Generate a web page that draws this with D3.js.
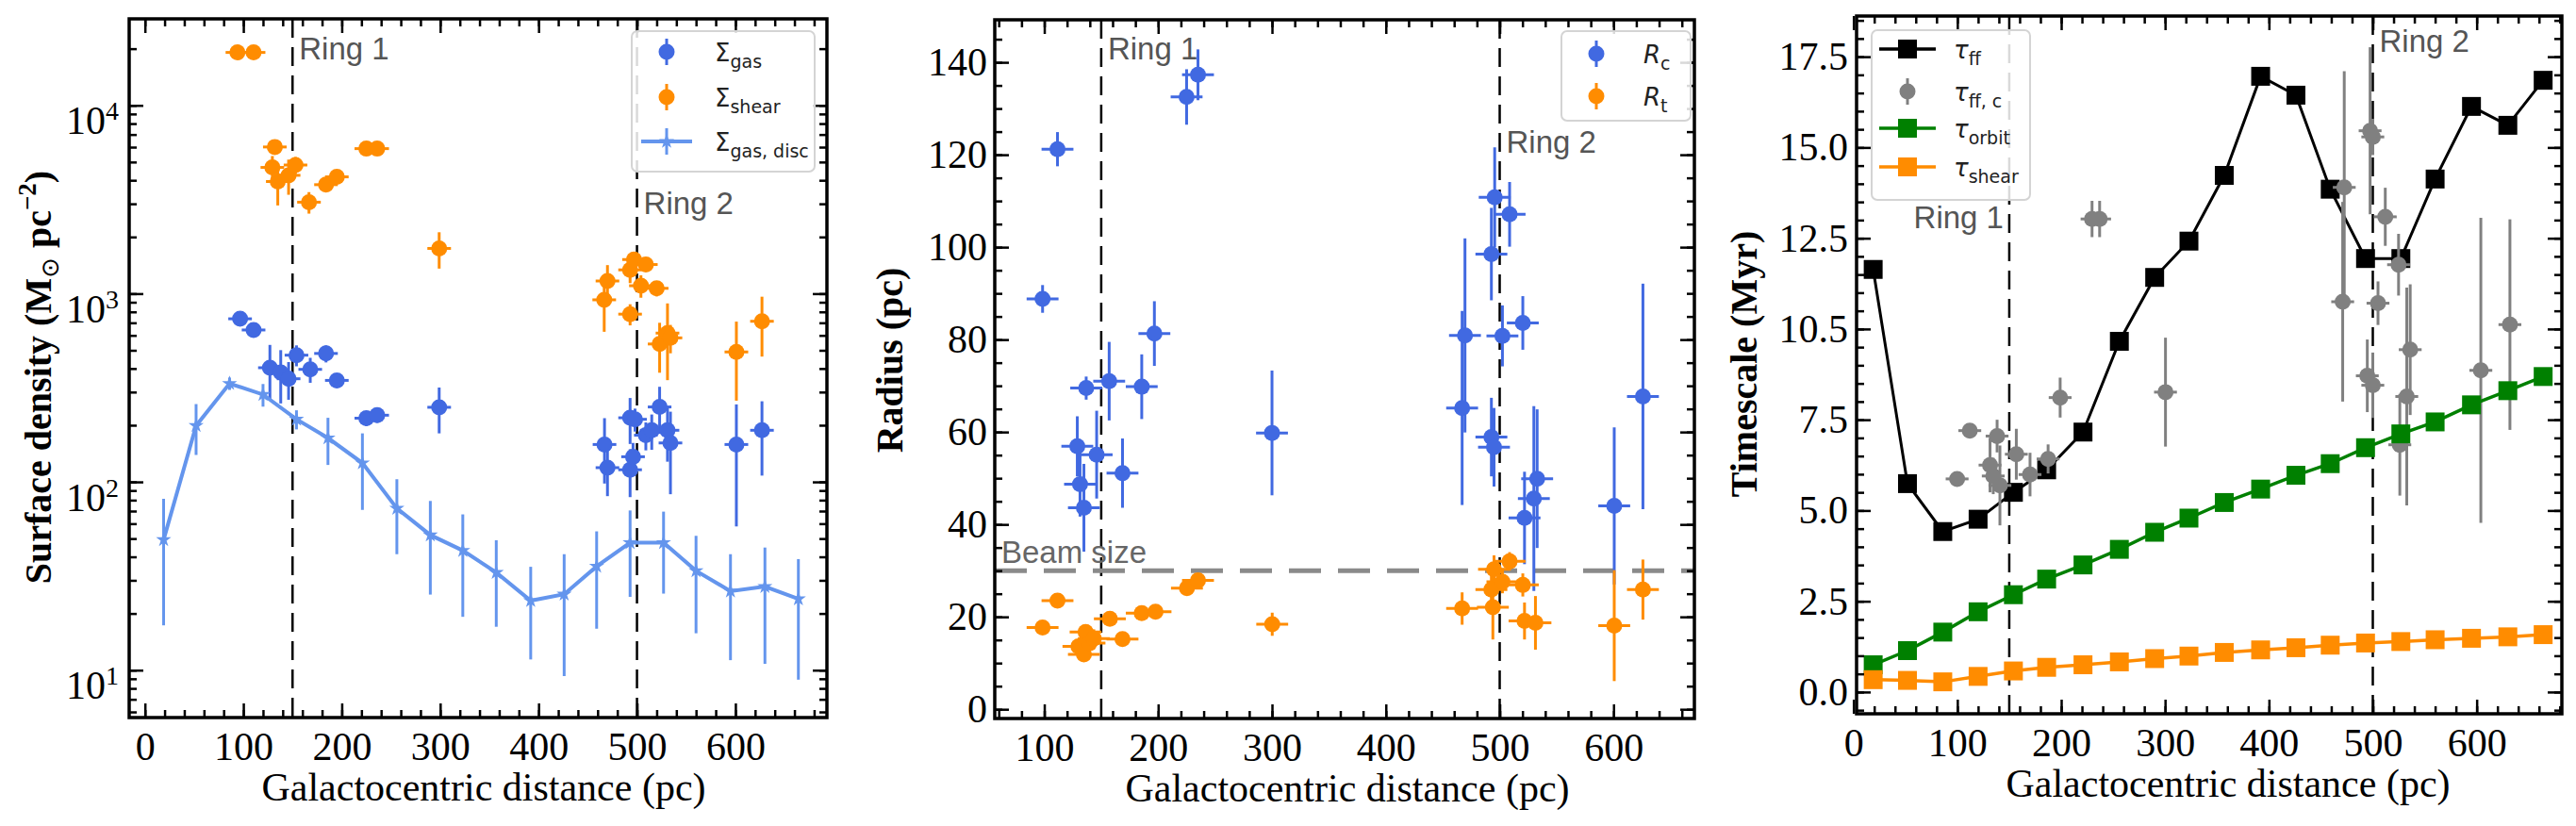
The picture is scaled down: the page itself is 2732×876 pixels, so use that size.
<!DOCTYPE html>
<html>
<head>
<meta charset="utf-8">
<script src="https://cdn.jsdelivr.net/npm/d3@7"></script>
<style>
  body { margin: 0; background: #fff; }
</style>
</head>
<body>
<svg id="fig" width="2732" height="876"></svg>
<script>
// ring positions (pc)
const ringRadii = [150, 500];

// ---- left panel: surface densities (Msun pc^-2) ----
const gasR = [96.7, 110.4, 127, 138, 146, 154, 168, 184, 195, 225, 236, 299,
              467, 470, 493, 493, 496, 498, 509, 515, 523, 531, 534, 601, 627];
const gasSigma = [735, 641, 404, 381, 353, 471, 396, 481, 346, 218, 226, 249,
                  158, 119, 219, 116, 136, 215, 177, 188, 250, 188, 161, 158, 188];
const gasErr = [40, 40, 130, 120, 80, 60, 60, 50, 30, 20, 20, 68,
                60, 35, 60, 33, 25, 30, 30, 40, 70, 60, 75, 100, 80];

const shearR = [94, 110.4, 129.5, 132, 135, 146, 153, 166.7, 184, 195, 225, 236, 299,
                466.7, 470, 493, 493, 497, 504, 509, 520, 523, 531, 534, 601, 627];
const shearSigma = [19100, 19100, 4680, 6010, 3940, 4250, 4820, 3060, 3790, 4170, 5890, 5890, 1738,
                    927, 1167, 1337, 778, 1517, 1101, 1427, 1067, 540, 617, 582, 490, 713];
const shearErr = [900, 900, 700, 500, 1000, 900, 500, 400, 300, 300, 300, 300, 380,
                  300, 250, 200, 100, 150, 150, 100, 100, 160, 270, 100, 220, 250];

// radial bins used for the disc averages and the timescales
const binR = [19, 52, 86, 120, 154, 186, 221, 256, 290, 323, 357, 392, 426, 459, 493, 527, 560, 595, 630, 664];
const discSigma = [49.3, 199, 333, 291, 215, 171, 126, 72.3, 52.2, 43.2, 33, 23.4, 25.3, 35.6, 47.5, 47.5, 33.7, 26.3, 27.8, 23.9];
const discErr = [32, 60, 25, 40, 25, 48, 55, 31, 27, 24, 16, 12, 16, 19, 23, 22, 18, 15, 17, 15];

// ---- middle panel: cloud radii (pc) ----
const rcR = [98.5, 111.6, 129, 131.4, 134.8, 136.8, 146, 157, 168.7, 185.6, 196.7, 225, 235, 300,
             467, 469.5, 492.7, 492.7, 495, 495.6, 502.4, 508.7, 520.3, 521.8, 530, 532.9, 600.6, 625.8];
const rc = [88.8, 121.2, 56.9, 48.7, 43.6, 69.5, 55.1, 71, 51.1, 69.8, 81.3, 132.5, 137.3, 59.8,
            65.2, 80.9, 98.5, 58.9, 56.7, 110.8, 80.8, 107.1, 83.6, 41.4, 45.6, 49.9, 44, 67.7];
const rcErr = [3, 3.7, 6.5, 7, 9.5, 2.5, 9.5, 8.5, 7.5, 7, 7, 6, 5.5, 13.5,
               21, 21, 10, 8.5, 8.5, 10.8, 6.6, 7, 5.8, 10, 20, 15, 17, 24.4];

const rtR = [98.5, 111.6, 130, 134.8, 136.3, 139.7, 143.5, 157.6, 168.7, 185.6, 197.7, 225.3, 235, 300.2,
             467, 492.7, 494, 495, 502.4, 508.7, 520.3, 521.8, 531.4, 600.6, 625.8];
const rt = [17.7, 23.5, 13.6, 11.9, 16.7, 14.3, 15.3, 19.6, 15.2, 20.8, 21.1, 26.2, 27.9, 18.4,
            21.8, 25.9, 22.1, 30.3, 27.6, 32, 26.9, 19.1, 18.7, 18.1, 25.9];
const rtErr = [1.5, 1.5, 1.5, 1.5, 1.5, 1.5, 2, 1.5, 1.5, 1.2, 1.2, 1.2, 1.2, 2.5,
               3.5, 4, 7, 3, 2.5, 2, 2.5, 4, 5.8, 12, 6.5];
const beamSize = 30;

// ---- right panel: timescales (Myr) ----
const tauFF = [11.64, 5.74, 4.42, 4.76, 5.5, 6.12, 7.16, 9.66, 11.42, 12.42, 14.23, 16.96,
               16.44, 13.85, 11.94, 11.94, 14.13, 16.13, 15.61, 16.85];
const tauOrbit = [0.75, 1.14, 1.65, 2.21, 2.68, 3.11, 3.5, 3.93, 4.4, 4.79, 5.22, 5.59,
                  5.97, 6.29, 6.73, 7.11, 7.44, 7.91, 8.3, 8.69];
const tauShear = [0.34, 0.32, 0.28, 0.43, 0.58, 0.68, 0.75, 0.83, 0.92, 0.99, 1.09, 1.16,
                  1.22, 1.29, 1.35, 1.39, 1.44, 1.48, 1.52, 1.58];
const tauCloudR = [99.8, 112, 131.5, 134.6, 138.3, 141, 156.8, 170, 187.4, 199, 229.7, 237, 300.4,
                   471, 472.5, 494.7, 497.4, 500, 500, 505, 512, 524.8, 526, 532.7, 536, 604, 632];
const tauCloud = [5.87, 7.2, 6.25, 5.95, 7.05, 5.69, 6.55, 5.99, 6.42, 8.11, 13.03, 13.03, 8.26,
                  10.75, 13.9, 8.71, 15.46, 8.45, 15.29, 10.71, 13.09, 11.77, 6.81, 8.14, 9.43, 8.86, 10.12];
const tauCloudErr = [0.2, 0.2, 0.75, 0.5, 0.45, 1.1, 0.7, 0.6, 0.4, 0.55, 0.5, 0.5, 1.5,
                     2.75, 3.2, 1, 2.3, 0.9, 0.5, 0.6, 0.8, 0.85, 1.4, 3, 1.8, 4.2, 2.9];

// tick values / labels
const distTicks = [0, 100, 200, 300, 400, 500, 600];
const distTicksMid = [100, 200, 300, 400, 500, 600];
const sigmaTicks = [10, 100, 1000, 10000];
const radiusTicks = [0, 20, 40, 60, 80, 100, 120, 140];
const timeTicks = [0, 2.5, 5, 7.5, 10, 12.5, 15, 17.5];
const timeTickLabels = ["0.0", "2.5", "5.0", "7.5", "10.5", "12.5", "15.0", "17.5"];

// colours
const cGas = "#4169e1", cShear = "#ff8c00", cDisc = "#6495ed";
const cGrey = "#808080", cGreen = "#008000";

const svg = d3.select("#fig");
const SERIF = "Liberation Serif, Times New Roman, serif";
const SANS = "DejaVu Sans, sans-serif";

/**
 * Panel: one set of axes with box, inward ticks on all four sides
 */
class Panel {
    constructor(id, box, x, y){
        this.id = id;
        this.x = x;
        this.y = y;
        this.w = box.right - box.left;
        this.h = box.bottom - box.top;
        this.box = box;
        this.x.range([0, this.w]);
        this.y.range([this.h, 0]);
        this.g = svg.append("g").attr("transform", "translate(" + box.left + "," + box.top + ")");
        this.g.append("clipPath").attr("id", "clip" + id)
            .append("rect").attr("width", this.w).attr("height", this.h);
        this.plot = this.g.append("g").attr("clip-path", "url(#clip" + id + ")");
    }

    drawAxes(opt){
        const MAJ = 15, MIN = 8;
        const x = this.x, y = this.y, g = this.g;
        const xd = x.domain(), yd = y.domain();
        const xMinor = opt.xMinor.filter(v => v >= xd[0] && v <= xd[1]);
        const yMinor = opt.yMinor.filter(v => v >= yd[0] && v <= yd[1]);

        const bottom = g.append("g").attr("transform", "translate(0," + this.h + ")");
        bottom.append("g").call(d3.axisBottom(x).tickValues(opt.xMajor).tickSize(-MAJ)
            .tickPadding(15).tickFormat(d3.format("d")));
        bottom.append("g").call(d3.axisBottom(x).tickValues(xMinor).tickSize(-MIN).tickFormat(""));
        g.append("g").call(d3.axisTop(x).tickValues(opt.xMajor).tickSize(-MAJ).tickFormat(""));
        g.append("g").call(d3.axisTop(x).tickValues(xMinor).tickSize(-MIN).tickFormat(""));

        this.yAxis = g.append("g").call(d3.axisLeft(y).tickValues(opt.yMajor).tickSize(-MAJ)
            .tickPadding(opt.yPad).tickFormat(opt.yFormat));
        g.append("g").call(d3.axisLeft(y).tickValues(yMinor).tickSize(-MIN).tickFormat(""));
        const right = g.append("g").attr("transform", "translate(" + this.w + ",0)");
        right.append("g").call(d3.axisRight(y).tickValues(opt.yMajor).tickSize(-MAJ).tickFormat(""));
        right.append("g").call(d3.axisRight(y).tickValues(yMinor).tickSize(-MIN).tickFormat(""));

        g.selectAll(".domain").remove();
        g.selectAll(".tick line").attr("stroke", "#000").attr("stroke-width", 2.5);
        g.selectAll(".tick text").attr("fill", "#000").attr("font-family", SERIF).attr("font-size", 42);
        g.append("rect").attr("width", this.w).attr("height", this.h)
            .attr("fill", "none").attr("stroke", "#000").attr("stroke-width", 3.5);
    }

    ringLines(labels){
        const x = this.x, h = this.h;
        this.plot.selectAll(".ring").data(ringRadii).join("line")
            .attr("class", "ring")
            .attr("x1", d => x(d)).attr("x2", d => x(d))
            .attr("y1", 0).attr("y2", h)
            .attr("stroke", "#000").attr("stroke-width", 2.5)
            .attr("stroke-dasharray", "20,10");
        labels.forEach((l, i) => {
            this.g.append("text")
                .attr("x", x(ringRadii[i]) + (l.anchor === "end" ? -6 : 7))
                .attr("y", l.y)
                .attr("text-anchor", l.anchor || "start")
                .attr("font-family", "Liberation Sans, Arial, sans-serif")
                .attr("font-size", 33).attr("fill", "#555")
                .text("Ring " + (i + 1));
        });
    }

    errorPoints(xs, vs, es, xe, color){
        const x = this.x, y = this.y;
        const lo = y.domain()[0];
        const data = xs.map((d, i) => ({r: d, v: vs[i], e: es[i]}));
        const s = this.plot.append("g");
        s.selectAll(".ey").data(data).join("line").attr("class", "ey")
            .attr("x1", d => x(d.r)).attr("x2", d => x(d.r))
            .attr("y1", d => y(Math.max(d.v - d.e, lo))).attr("y2", d => y(d.v + d.e))
            .attr("stroke", color).attr("stroke-width", 3);
        s.selectAll(".ex").data(data).join("line").attr("class", "ex")
            .attr("x1", d => x(d.r - xe)).attr("x2", d => x(d.r + xe))
            .attr("y1", d => y(d.v)).attr("y2", d => y(d.v))
            .attr("stroke", color).attr("stroke-width", 3);
        s.selectAll("circle").data(data).join("circle")
            .attr("cx", d => x(d.r)).attr("cy", d => y(d.v)).attr("r", 8.5)
            .attr("fill", color);
    }

    squareLine(xs, vs, color, lw){
        const x = this.x, y = this.y;
        const data = xs.map((d, i) => ({r: d, v: vs[i]}));
        const line = d3.line().x(d => x(d.r)).y(d => y(d.v));
        const s = this.plot.append("g");
        s.append("path").datum(data).attr("d", line)
            .attr("fill", "none").attr("stroke", color).attr("stroke-width", lw);
        s.selectAll("rect").data(data).join("rect")
            .attr("x", d => x(d.r) - 10).attr("y", d => y(d.v) - 10)
            .attr("width", 20).attr("height", 20).attr("fill", color);
    }

    yLabel(xPos, yPos, build){
        const t = svg.append("text")
            .attr("transform", "translate(" + xPos + "," + yPos + ") rotate(-90)")
            .attr("text-anchor", "middle")
            .attr("font-family", SERIF).attr("font-size", 40).attr("font-weight", "bold");
        build(t);
    }

    xLabel(cx){
        svg.append("text").attr("x", cx).attr("y", this.box.bottom + 88)
            .attr("text-anchor", "middle")
            .attr("font-family", SERIF).attr("font-size", 42)
            .text("Galactocentric distance (pc)");
    }

    legend(box, entries){
        const lg = this.g.append("g");
        lg.append("rect").attr("x", box.x).attr("y", box.y).attr("width", box.w).attr("height", box.h)
            .attr("rx", 6).attr("fill", "#fff").attr("fill-opacity", 0.85)
            .attr("stroke", "#d4d4d4").attr("stroke-width", 2);
        entries.forEach(e => {
            const hg = lg.append("g").attr("transform", "translate(" + box.hx + "," + e.y + ")");
            e.handle(hg);
            const t = lg.append("text").attr("x", box.tx).attr("y", e.y + 10)
                .attr("font-family", SANS).attr("font-size", 26).attr("fill", "#222");
            t.append("tspan").attr("font-style", e.italic ? "italic" : null).text(e.main);
            t.append("tspan").attr("font-size", 19).attr("dy", 7).text(e.sub);
        });
    }
}

// legend handles
function pointHandle(color){
    return h => {
        h.append("line").attr("y1", -14).attr("y2", 14).attr("stroke", color).attr("stroke-width", 3);
        h.append("circle").attr("r", 8.5).attr("fill", color);
    };
}
function squareHandle(color){
    return h => {
        h.append("line").attr("x1", -30).attr("x2", 30).attr("stroke", color).attr("stroke-width", 3.5);
        h.append("rect").attr("x", -10).attr("y", -10).attr("width", 20).attr("height", 20).attr("fill", color);
    };
}
const star = d3.symbol().type(d3.symbolStar).size(80);

// ================= left panel =================
const p1 = new Panel(1, {left: 137, right: 877, top: 20, bottom: 761},
    d3.scaleLinear().domain([-16, 693]),
    d3.scaleLog().domain([5.6, 28800]));
p1.drawAxes({
    xMajor: distTicks, xMinor: d3.range(-20, 700, 20),
    yMajor: sigmaTicks, yMinor: p1.y.ticks(), yPad: 11, yFormat: () => ""
});
p1.yAxis.selectAll(".tick text").each(function(d){
    const t = d3.select(this).attr("dy", "0.72em");
    t.append("tspan").text("10");
    t.append("tspan").attr("font-size", 28).attr("dy", -15).text(Math.round(Math.log10(d)));
});
p1.ringLines([{y: 43}, {y: 207}]);
p1.errorPoints(gasR, gasSigma, gasErr, 12, cGas);
p1.errorPoints(shearR, shearSigma, shearErr, 12, cShear);
{
    const x = p1.x, y = p1.y;
    const data = binR.map((d, i) => ({r: d, v: discSigma[i], e: discErr[i]}));
    const s = p1.plot.append("g");
    s.selectAll(".ey").data(data).join("line").attr("class", "ey")
        .attr("x1", d => x(d.r)).attr("x2", d => x(d.r))
        .attr("y1", d => y(Math.max(d.v - d.e, 5.6))).attr("y2", d => y(d.v + d.e))
        .attr("stroke", cDisc).attr("stroke-width", 3);
    s.append("path").datum(data)
        .attr("d", d3.line().x(d => x(d.r)).y(d => y(d.v)))
        .attr("fill", "none").attr("stroke", cDisc).attr("stroke-width", 4);
    s.selectAll(".star").data(data).join("path").attr("class", "star")
        .attr("transform", d => "translate(" + x(d.r) + "," + y(d.v) + ")")
        .attr("d", star).attr("fill", cDisc);
}
p1.legend({x: 533, y: 13, w: 194, h: 149, hx: 570, tx: 621}, [
    {y: 35, main: "Σ", sub: "gas", handle: pointHandle(cGas)},
    {y: 83, main: "Σ", sub: "shear", handle: pointHandle(cShear)},
    {y: 130, main: "Σ", sub: "gas, disc", handle: h => {
        h.append("line").attr("x1", -27).attr("x2", 27).attr("stroke", cDisc).attr("stroke-width", 4);
        h.append("line").attr("y1", -14).attr("y2", 14).attr("stroke", cDisc).attr("stroke-width", 3);
        h.append("path").attr("d", star).attr("fill", cDisc);
    }}
]);
p1.yLabel(54, 400, t => {
    t.append("tspan").text("Surface density (M");
    t.append("tspan").attr("font-family", "DejaVu Sans").attr("font-weight", "normal")
        .attr("font-size", 26).attr("dy", 8).text("⊙");
    t.append("tspan").attr("dy", -8).text(" pc");
    t.append("tspan").attr("font-size", 27).attr("dy", -16).text("−2");
    t.append("tspan").attr("dy", 16).text(")");
});
p1.xLabel(513);

// ================= middle panel =================
const p2 = new Panel(2, {left: 1055, right: 1797, top: 21, bottom: 762},
    d3.scaleLinear().domain([56.5, 671]),
    d3.scaleLinear().domain([-2, 149.2]));
p2.drawAxes({
    xMajor: distTicksMid, xMinor: d3.range(60, 680, 20),
    yMajor: radiusTicks, yMinor: d3.range(-5, 150, 5), yPad: 8, yFormat: d3.format("d")
});
p2.ringLines([{y: 42}, {y: 141}]);
p2.plot.append("line")
    .attr("x1", 0).attr("x2", p2.w)
    .attr("y1", p2.y(beamSize)).attr("y2", p2.y(beamSize))
    .attr("stroke", "#8a8a8a").attr("stroke-width", 5).attr("stroke-dasharray", "34,18");
p2.g.append("text").attr("x", 7).attr("y", p2.y(beamSize) - 8)
    .attr("font-family", "Liberation Sans, Arial, sans-serif").attr("font-size", 33)
    .attr("fill", "#666").text("Beam size");
p2.errorPoints(rcR, rc, rcErr, 14, cGas);
p2.errorPoints(rtR, rt, rtErr, 14, cShear);
p2.legend({x: 601, y: 12, w: 137, h: 95, hx: 638, tx: 688}, [
    {y: 36, main: "R", sub: "c", italic: true, handle: pointHandle(cGas)},
    {y: 81, main: "R", sub: "t", italic: true, handle: pointHandle(cShear)}
]);
p2.yLabel(957, 382, t => t.text("Radius (pc)"));
p2.xLabel(1429);

// ================= right panel =================
const p3 = new Panel(3, {left: 1969, right: 2717, top: 17, bottom: 757},
    d3.scaleLinear().domain([3, 682]),
    d3.scaleLinear().domain([-0.6, 18.62]));
p3.drawAxes({
    xMajor: distTicks, xMinor: d3.range(0, 700, 20),
    yMajor: timeTicks, yMinor: d3.range(-0.5, 19, 0.5), yPad: 9,
    yFormat: (d, i) => timeTickLabels[i]
});
p3.ringLines([{y: 225, anchor: "end"}, {y: 38}]);
p3.squareLine(binR, tauFF, "#000", 3);
p3.errorPoints(tauCloudR, tauCloud, tauCloudErr, 11, cGrey);
p3.squareLine(binR, tauOrbit, cGreen, 3.5);
p3.squareLine(binR, tauShear, cShear, 3.5);
p3.legend({x: 16, y: 15, w: 168, h: 180, hx: 54, tx: 103}, [
    {y: 35, main: "τ", sub: "ff", italic: true, handle: squareHandle("#000")},
    {y: 80, main: "τ", sub: "ff, c", italic: true, handle: pointHandle(cGrey)},
    {y: 119, main: "τ", sub: "orbit", italic: true, handle: squareHandle(cGreen)},
    {y: 160, main: "τ", sub: "shear", italic: true, handle: squareHandle(cShear)}
]);
p3.yLabel(1863, 386, t => t.text("Timescale (Myr)"));
p3.xLabel(2363);
</script>
</body>
</html>
